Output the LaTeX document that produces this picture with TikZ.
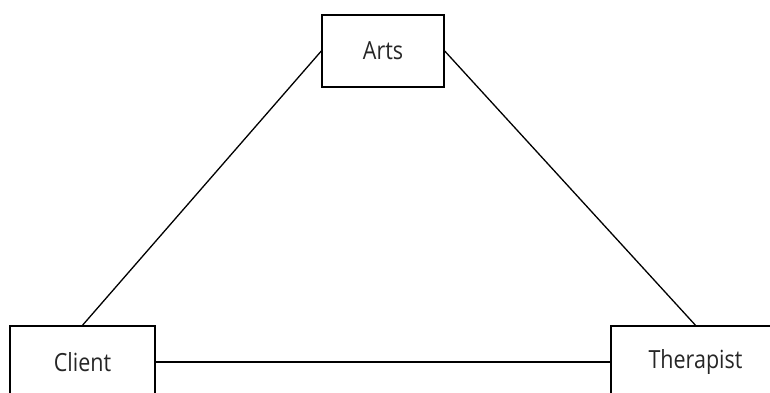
\documentclass[tikz,border=0pt]{standalone}
\usepackage{fontspec}
\setmainfont[FakeStretch=0.86]{Open Sans}
\usetikzlibrary{positioning}

\begin{document}
\begin{tikzpicture}[
  x=1pt, y=-1pt,
  box/.style={draw, line width=1.4pt, minimum height=72pt, align=center,
              font=\fontsize{25}{28}\selectfont\color{black!85}, inner sep=0pt},
  link/.style={line width=1.3pt}
]
  \useasboundingbox (0,0) rectangle (770,393);
  \clip (0,0) rectangle (770,393);

  \node[box, minimum width=122pt] (arts)      at (383,51)    {Arts};
  \node[box, minimum width=145pt] (client)    at (82.5,362)  {Client};
  \node[box, minimum width=169pt] (therapist) at (695.5,362) {Therapist};

  \draw[link] (arts.west) -- (client.north);
  \draw[link] (arts.east) -- (therapist.north);
  \draw[link] (client.east) -- (therapist.west);
\end{tikzpicture}
\end{document}
